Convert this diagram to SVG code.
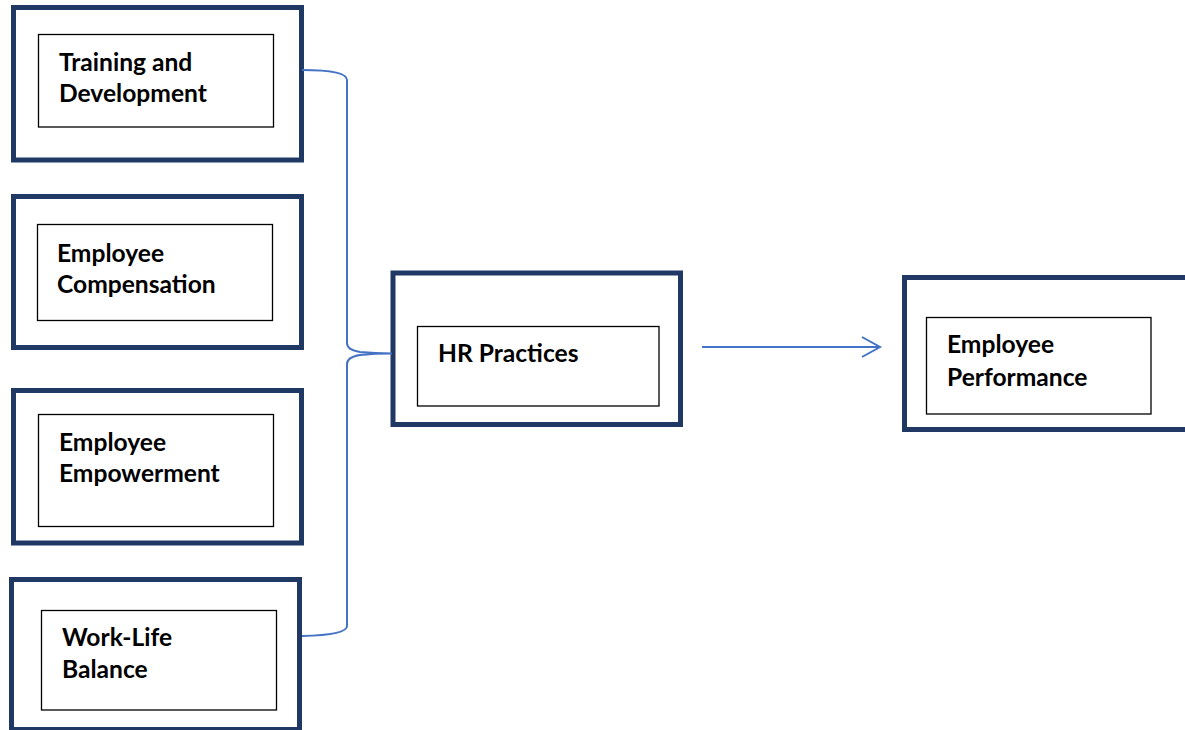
<svg xmlns="http://www.w3.org/2000/svg" width="1185" height="730" viewBox="0 0 1185 730">
  <style>
    .outer { fill: #ffffff; stroke: #203864; stroke-width: 5; }
    .inner { fill: #ffffff; stroke: #000000; stroke-width: 1.3; }
    .label { font-family: Lato, "Liberation Sans", sans-serif; font-weight: bold; font-size: 24.6px; fill: #000000; }
    .link { fill: none; stroke: #4472C4; stroke-width: 2; }
  </style>
  <rect width="1185" height="730" fill="#ffffff"/>

  <g id="training">
    <rect class="outer" x="13.5" y="7.5" width="288" height="152.5"/>
    <rect class="inner" x="38.5" y="34.5" width="235" height="92.5"/>
    <text class="label" x="59" y="71">Training and</text>
    <text class="label" x="59" y="102">Development</text>
  </g>

  <g id="compensation">
    <rect class="outer" x="13.5" y="196.5" width="288" height="151"/>
    <rect class="inner" x="37.5" y="224.5" width="235" height="96"/>
    <text class="label" x="57" y="262">Employee</text>
    <text class="label" x="57" y="293">Compensation</text>
  </g>

  <g id="empowerment">
    <rect class="outer" x="13.5" y="390.5" width="288" height="152.5"/>
    <rect class="inner" x="38.5" y="414.5" width="235" height="112"/>
    <text class="label" x="59" y="451">Employee</text>
    <text class="label" x="59" y="482">Empowerment</text>
  </g>

  <g id="worklife">
    <rect class="outer" x="11.5" y="579.5" width="288" height="150"/>
    <rect class="inner" x="41.5" y="610.5" width="235" height="99.5"/>
    <text class="label" x="62" y="646">Work-Life</text>
    <text class="label" x="62" y="678">Balance</text>
  </g>

  <g id="hr-practices">
    <rect class="outer" x="393" y="273" width="287.5" height="151.5"/>
    <rect class="inner" x="417.5" y="326.5" width="241.5" height="79.5"/>
    <text class="label" x="438" y="362">HR Practices</text>
  </g>

  <g id="performance">
    <rect class="outer" x="904.5" y="277.5" width="290" height="152"/>
    <rect class="inner" x="926.5" y="317.5" width="224.5" height="96.5"/>
    <text class="label" x="947" y="353">Employee</text>
    <text class="label" x="947" y="386">Performance</text>
  </g>

  <g id="connectors">
    <!-- brace gathering the four practices into HR Practices -->
    <path class="link" d="M302,70 Q347,70 347,80 L347,343 Q347,350 360,352 Q375,353.5 392,353.5 Q375,353.5 360,355 Q347,357 347,364 L347,626 Q347,635 302,636"/>
    <!-- HR Practices to Employee Performance -->
    <path class="link" d="M702,347 L879,347"/>
    <path class="link" d="M862,337 L880,347 L862,357"/>
  </g>
</svg>
